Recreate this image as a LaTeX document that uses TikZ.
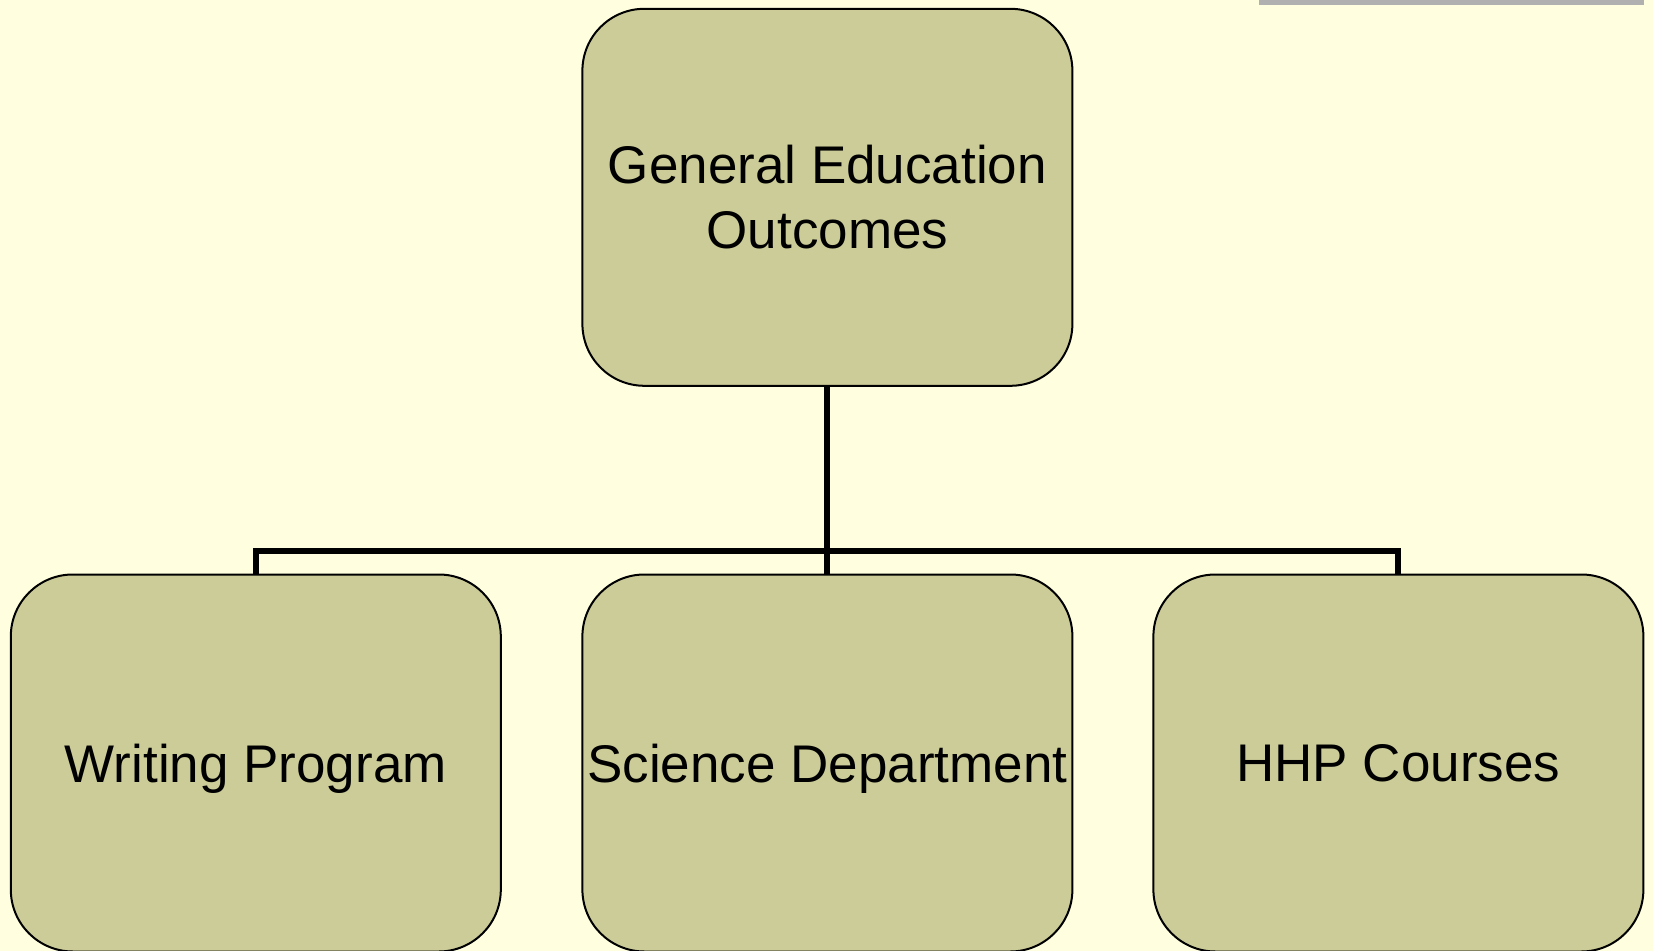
\documentclass[tikz,border=0pt]{standalone}
\usepackage{fontspec}
\setmainfont{Liberation Sans}
\definecolor{bgc}{HTML}{FFFFE0}
\definecolor{boxc}{HTML}{CCCC99}
\definecolor{barc}{HTML}{B0B0B0}
\begin{document}
\begin{tikzpicture}[x=0.5pt,y=-0.5pt,
  orgbox/.style={draw=black, line width=1pt, fill=boxc, rounded corners=31pt,
    minimum width=245pt, minimum height=188.5pt, align=center,
    font=\fontsize{26.5pt}{32.6pt}\selectfont, inner sep=0pt},
  leafbox/.style={orgbox, text depth=0pt},
  conn/.style={draw=black, line width=3pt}]
\useasboundingbox (0,0) rectangle (1653,951);
\fill[bgc] (0,0) rectangle (1653,951);
\fill[barc] (1259,0) rectangle (1644,5);
\node[orgbox] (top) at (827.4,197.3) {General Education\\Outcomes};
\node[leafbox] (w) at (255.8,763) {Writing Program};
\node[leafbox] (s) at (827.4,763) {Science Department};
\node[leafbox] (h) at (1398.4,763) {HHP Courses};
\coordinate (j) at (827.4,551);
\draw[conn] (top.south) -- (j);
\draw[conn] (w.north) -- (w.north |- j) -- (h.north |- j) -- (h.north);
\draw[conn] (j) -- (s.north);
\end{tikzpicture}
\end{document}
